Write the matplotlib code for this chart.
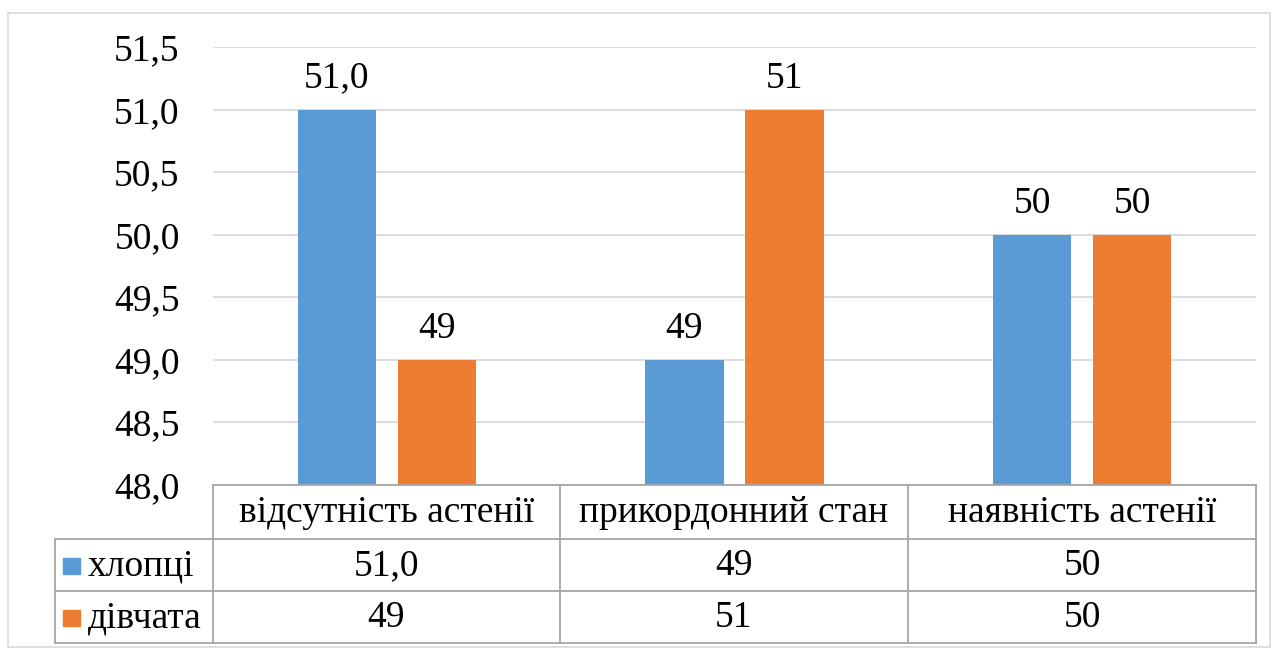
import matplotlib
matplotlib.use("Agg")
import matplotlib.pyplot as plt
from matplotlib.patches import Rectangle
from matplotlib.lines import Line2D
import numpy as np

categories = ["відсутність астенії", "прикордонний стан", "наявність астенії"]
series_names = ["хлопці", "дівчата"]
boys = [51.0, 49, 50]
girls = [49, 51, 50]
boys_labels = ["51,0", "49", "50"]
girls_labels = ["49", "51", "50"]
yticks = [48.0, 48.5, 49.0, 49.5, 50.0, 50.5, 51.0, 51.5]

colors = ["#5B9BD5", "#ED7D31"]
W, H = 1276, 648
plt.rcParams['font.family'] = ['Liberation Serif', 'DejaVu Serif']
FS = 27

fig = plt.figure(figsize=(W / 100, H / 100), dpi=100)

def fx(px):
    return px / W

def fy(py):
    return 1 - py / H

# outer border
fig.add_artist(Rectangle((fx(8), fy(647)), fx(1270) - fx(8), fy(13) - fy(647),
                         transform=fig.transFigure, fill=False, edgecolor="#D9D9D9", lw=1.2))

left, right, top, bottom = 213, 1256, 47, 485
ax = fig.add_axes([fx(left), fy(bottom), fx(right) - fx(left), fy(top) - fy(bottom)])
ax.set_ylim(48.0, 51.5)
ax.set_xlim(-0.5, len(categories) - 0.5)
ax.set_yticks(yticks)
ax.set_yticklabels([f"{v:.1f}".replace(".", ",") for v in yticks], fontsize=FS)
ax.tick_params(axis="y", length=0, pad=24)
ax.set_xticks([])
for s in ax.spines.values():
    s.set_visible(False)
ax.grid(axis="y", color="#D9D9D9", lw=1.3)
ax.set_axisbelow(True)

x = np.arange(len(categories))
bw = 0.225
off = 0.144
ax.bar(x - off, np.array(boys) - 48.0, bw, bottom=48.0, color=colors[0])
ax.bar(x + off, np.array(girls) - 48.0, bw, bottom=48.0, color=colors[1])
for xi, v, lab in zip(x - off, boys, boys_labels):
    ax.annotate(lab, (xi, v), xytext=(0, 10), textcoords="offset points",
                ha="center", va="bottom", fontsize=FS)
for xi, v, lab in zip(x + off, girls, girls_labels):
    ax.annotate(lab, (xi, v), xytext=(0, 10), textcoords="offset points",
                ha="center", va="bottom", fontsize=FS)

# data table
tc = "#A6A6A6"
col_x = [213, 560, 908, 1256]
row_y = [485, 539, 591, 643]
tab_left = 55

def hline(y, x0, x1):
    fig.add_artist(Line2D([fx(x0), fx(x1)], [fy(y), fy(y)], transform=fig.transFigure, color=tc, lw=1.3))

def vline(xp, y0, y1):
    fig.add_artist(Line2D([fx(xp), fx(xp)], [fy(y0), fy(y1)], transform=fig.transFigure, color=tc, lw=1.3))

hline(row_y[0], col_x[0], col_x[-1])
for y in row_y[1:]:
    hline(y, tab_left, col_x[-1])
vline(tab_left, row_y[1], row_y[-1])
for xp in col_x:
    vline(xp, row_y[0], row_y[-1])

for i, c in enumerate(categories):
    cx = (col_x[i] + col_x[i + 1]) / 2
    fig.text(fx(cx), fy((row_y[0] + row_y[1]) / 2 + 1), c, ha="center", va="center", fontsize=FS)

rows = [boys_labels, girls_labels]
for r, (name, labs) in enumerate(zip(series_names, rows)):
    yc = (row_y[r + 1] + row_y[r + 2]) / 2 + 1
    fig.add_artist(Rectangle((fx(63), fy(yc + 8)), fx(17), fy(0) - fy(16),
                             transform=fig.transFigure, color=colors[r]))
    fig.text(fx(88), fy(yc), name, ha="left", va="center", fontsize=FS)
    for i, lab in enumerate(labs):
        cx = (col_x[i] + col_x[i + 1]) / 2
        fig.text(fx(cx), fy(yc), lab, ha="center", va="center", fontsize=FS)

fig.savefig("out.png", dpi=100, facecolor="white")
